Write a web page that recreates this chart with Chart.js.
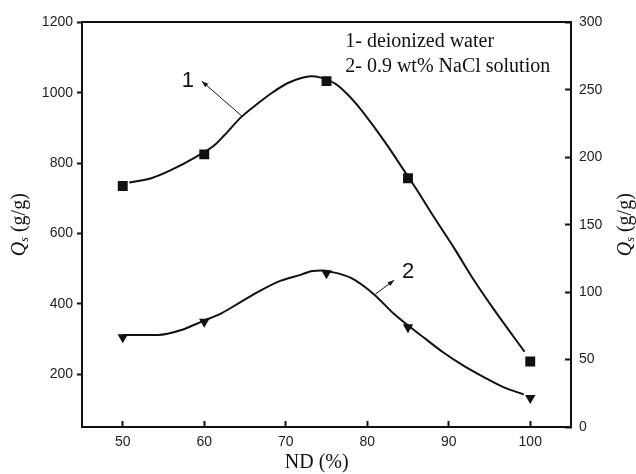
<!DOCTYPE html>
<html>
<head>
<meta charset="utf-8">
<script src="https://cdn.jsdelivr.net/npm/chart.js@4"></script>
<style>
  html, body { margin: 0; padding: 0; background: #fff; }
  #wrap { width: 636px; height: 474px; }
</style>
</head>
<body>
<div id="wrap"><canvas id="qsChart"></canvas></div>
<script>
// measured points (ND %, Qs)
const nd = [50, 60, 75, 85, 100];
const qsWater = [735, 825, 1033, 757, 236];   // left axis, g/g
const qsNaCl = [66.5, 78, 114, 74, 21.5];     // right axis, g/g

// fitted curves
const waterCurveX = [50.8, 53.5, 55.9, 59, 61.2, 62.5, 64.5, 66.6, 68.2, 70.2, 71.9, 73.1, 74.3, 76.2, 77.6, 79.2, 80.9, 82.5, 84.4, 86.0, 88.2, 90.7, 93.1, 95.6, 99.3];
const waterCurveY = [745, 757, 780, 818, 850, 880, 930, 970, 998, 1027, 1042, 1047, 1043, 1024, 995, 953, 901, 849, 783, 727, 646, 557, 467, 382, 264];
const naclCurveX = [50, 54.3, 57.2, 59.6, 62.1, 64.5, 67.0, 69.4, 71.9, 73.1, 74.5, 75.6, 78, 80.8, 83.3, 86.9, 89.3, 91.8, 94.3, 96.7, 99.2];
const naclCurveY = [68.2, 68.2, 71.9, 78, 84.3, 92.8, 101.5, 108.5, 113, 115.5, 116, 115, 110.5, 98.5, 83.7, 66.5, 55.4, 45.5, 37, 29.6, 24.1];

const xTicks = [50, 60, 70, 80, 90, 100];
const leftTicks = [200, 400, 600, 800, 1000, 1200];
const rightTicks = [0, 50, 100, 150, 200, 250, 300];
const legendLines = ['1- deionized water', '2- 0.9 wt% NaCl solution'];

const ink = '#111';
const serif = '"Liberation Serif", "Times New Roman", serif';
const sans = '"Liberation Sans", Arial, sans-serif';

function pts(xs, ys) {
    return xs.map((x, i) => ({ x: x, y: ys[i] }));
}

function arrow(ctx, x1, y1, x2, y2) {
    const a = Math.atan2(y2 - y1, x2 - x1);
    ctx.beginPath();
    ctx.moveTo(x1, y1);
    ctx.lineTo(x2, y2);
    ctx.stroke();
    ctx.beginPath();
    ctx.moveTo(x2, y2);
    ctx.lineTo(x2 - 7 * Math.cos(a - 0.35), y2 - 7 * Math.sin(a - 0.35));
    ctx.lineTo(x2 - 7 * Math.cos(a + 0.35), y2 - 7 * Math.sin(a + 0.35));
    ctx.closePath();
    ctx.fill();
}

// Q_s (g/g) title, rotated
function drawQsTitle(ctx, cx, cy) {
    const parts = [
        { t: 'Q', f: 'italic 20px ' + serif, dy: 0 },
        { t: 's', f: 'italic 12px ' + serif, dy: 5 },
        { t: ' (g/g)', f: '20px ' + serif, dy: 0 }
    ];
    ctx.save();
    ctx.translate(cx, cy);
    ctx.rotate(-Math.PI / 2);
    ctx.textBaseline = 'middle';
    ctx.textAlign = 'left';
    let total = 0;
    parts.forEach(p => { ctx.font = p.f; p.w = ctx.measureText(p.t).width; total += p.w; });
    let x = -total / 2;
    parts.forEach(p => {
        ctx.font = p.f;
        ctx.fillText(p.t, x, p.dy);
        x += p.w;
    });
    ctx.restore();
}

const decorations = {
    id: 'decorations',
    afterDraw(chart) {
        const { ctx, chartArea, scales } = chart;
        const x = scales.x, yL = scales.yL, yR = scales.yR;
        ctx.save();
        ctx.fillStyle = ink;
        ctx.strokeStyle = ink;
        ctx.lineWidth = 1;

        // curve labels and arrows
        ctx.font = '22px ' + sans;
        ctx.textAlign = 'center';
        ctx.textBaseline = 'middle';
        ctx.fillText('1', x.getPixelForValue(58.0), yL.getPixelForValue(1033));
        arrow(ctx, x.getPixelForValue(64.6), yL.getPixelForValue(934), x.getPixelForValue(59.7), yL.getPixelForValue(1033));
        ctx.fillText('2', x.getPixelForValue(85.0), yR.getPixelForValue(114.8));
        arrow(ctx, x.getPixelForValue(81.0), yR.getPixelForValue(98.5), x.getPixelForValue(83.3), yR.getPixelForValue(108.9));

        // legend text
        ctx.font = '20px ' + serif;
        ctx.textAlign = 'left';
        ctx.fillText(legendLines[0], x.getPixelForValue(77.3), yL.getPixelForValue(1146));
        ctx.fillText(legendLines[1], x.getPixelForValue(77.3), yL.getPixelForValue(1075));

        // axis titles
        const midY = (chartArea.top + chartArea.bottom) / 2;
        drawQsTitle(ctx, 20, midY);
        drawQsTitle(ctx, 626, midY);
        ctx.font = '20px ' + serif;
        ctx.textAlign = 'center';
        ctx.fillText('ND (%)', x.getPixelForValue(73.8), 463);
        ctx.restore();
    }
};

const plain = v => String(v);

const ctx = document.getElementById('qsChart').getContext('2d');
new Chart(ctx, {
    type: 'scatter',
    data: {
        datasets: [
            {
                label: 'deionized water',
                data: pts(nd, qsWater),
                yAxisID: 'yL',
                pointStyle: 'rect',
                pointRadius: 7,
                backgroundColor: ink,
                borderColor: ink,
                borderWidth: 0
            },
            {
                label: '0.9 wt% NaCl solution',
                data: pts(nd, qsNaCl),
                yAxisID: 'yR',
                pointStyle: 'triangle',
                rotation: 180,
                pointRadius: 6,
                backgroundColor: ink,
                borderColor: ink,
                borderWidth: 0
            },
            {
                label: 'curve 1',
                data: pts(waterCurveX, waterCurveY),
                yAxisID: 'yL',
                showLine: true,
                pointRadius: 0,
                borderColor: ink,
                borderWidth: 2,
                cubicInterpolationMode: 'monotone'
            },
            {
                label: 'curve 2',
                data: pts(naclCurveX, naclCurveY),
                yAxisID: 'yR',
                showLine: true,
                pointRadius: 0,
                borderColor: ink,
                borderWidth: 2,
                cubicInterpolationMode: 'monotone'
            }
        ]
    },
    options: {
        responsive: true,
        maintainAspectRatio: false,
        animation: false,
        layout: { padding: { top: 21, left: 0, right: 0, bottom: 0 } },
        plugins: {
            legend: { display: false },
            tooltip: { enabled: false }
        },
        scales: {
            x: {
                type: 'linear',
                position: 'bottom',
                min: 45,
                max: 105,
                afterBuildTicks: s => { s.ticks = xTicks.map(v => ({ value: v })); },
                afterFit: s => { s.height = 47; },
                ticks: { autoSkip: false, maxRotation: 0, padding: 13, color: '#222', font: { family: sans, size: 14 }, callback: plain },
                grid: { drawOnChartArea: false, tickLength: -6, tickWidth: 2, tickColor: ink },
                border: { display: true, width: 2, color: ink }
            },
            xTop: {
                type: 'linear',
                position: 'top',
                min: 45,
                max: 105,
                afterFit: s => { s.height = 0; },
                ticks: { display: false },
                grid: { display: false },
                border: { display: true, width: 2, color: ink }
            },
            yL: {
                type: 'linear',
                position: 'left',
                min: 50,
                max: 1200,
                afterBuildTicks: s => { s.ticks = leftTicks.map(v => ({ value: v })); },
                afterFit: s => { s.width = 82; },
                ticks: { autoSkip: false, padding: 4, color: '#222', font: { family: sans, size: 14 }, callback: plain },
                grid: { drawOnChartArea: false, tickLength: 5, tickWidth: 2, tickColor: ink },
                border: { display: true, width: 2, color: ink }
            },
            yR: {
                type: 'linear',
                position: 'right',
                min: 0,
                max: 300,
                afterBuildTicks: s => { s.ticks = rightTicks.map(v => ({ value: v })); },
                afterFit: s => { s.width = 65; },
                ticks: { autoSkip: false, padding: 14, color: '#222', font: { family: '"Liberation Sans Narrow", ' + sans, size: 14 }, callback: plain },
                grid: { drawOnChartArea: false, tickLength: -6, tickWidth: 2, tickColor: ink },
                border: { display: true, width: 2, color: ink }
            }
        }
    },
    plugins: [decorations]
});
</script>
</body>
</html>
